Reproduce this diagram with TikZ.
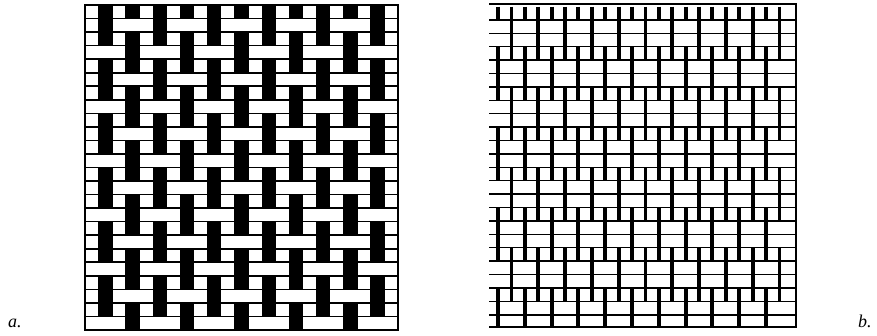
\documentclass[tikz,border=0pt]{standalone}
\usepackage{fontspec}
\setmainfont{Liberation Serif}
\begin{document}
\begin{tikzpicture}[x=1pt,y=-1pt,
  hlinea/.style={line width=1.6pt, black},
  hlineb/.style={line width=1.4pt, black},
  frameline/.style={line width=1.6pt, black},
  warpline/.style={line width=3.9pt, black},
  lab/.style={font=\itshape\fontsize{18}{18}\selectfont, inner sep=0pt, anchor=base west}]
\useasboundingbox (0,0) rectangle (877,336);
\fill[white] (0,0) rectangle (877,336);
% ---------------- panel a ----------------
\def\aL{85}\def\aR{398}\def\aT{5}\def\aB{330}
\pgfmathsetmacro\cw{313/23}
\pgfmathsetmacro\rh{325/24}
\foreach \r in {1,...,23}
  \draw[hlinea] (\aL,{\aT+\r*\rh}) -- (\aR,{\aT+\r*\rh});
% warp columns c = 1,5,9,... : black over rows 0-2, 4-6, ...
\foreach \c in {1,5,9,13,17,21}
  \foreach \s in {0,4,...,20}
    \fill ({\aL+\c*\cw-0.4},{\aT+\s*\rh}) rectangle ({\aL+(\c+1)*\cw+0.4},{\aT+(\s+3)*\rh});
% warp columns c = 3,7,11,... : black over rows 0, 2-4, 6-8, ..., 22-23
\foreach \c in {3,7,11,15,19}
  \foreach \s/\e in {0/1,2/5,6/9,10/13,14/17,18/21,22/24}
    \fill ({\aL+\c*\cw-0.4},{\aT+\s*\rh}) rectangle ({\aL+(\c+1)*\cw+0.4},{\aT+\e*\rh});
\draw[frameline] (\aL,\aT) rectangle (\aR,\aB);
% ---------------- panel b ----------------
\def\bL{489}\def\bR{796}\def\bT{4}\def\bB{327}
\foreach \m in {1,...,23}
  \draw[hlineb] (\bL,{6.6+13.4*\m}) -- (\bR,{6.6+13.4*\m});
\draw[frameline] (\bL,\bT) -- (\bR,\bT) -- (\bR,\bB) -- (\bL,\bB);
% warp set A
\foreach \k in {0,...,10}
  \foreach \s/\e in {0/4,6/10,12/16,18/22}
    \draw[warpline] ({511.5+26.8*\k},{max(\bT,min(\bB,6.6+13.4*\s))}) -- ({511.5+26.8*\k},{max(\bT,min(\bB,6.6+13.4*\e))});
% warp set B
\foreach \k in {0,...,10}
  \foreach \s/\e in {0/1,3/7,9/13,15/19,21/25}
    \draw[warpline] ({498+26.8*\k},{max(\bT,min(\bB,6.6+13.4*\s))}) -- ({498+26.8*\k},{max(\bT,min(\bB,6.6+13.4*\e))});
% labels
\node[lab] (la) at (8,327) {a.};
\node[lab] (lb) at (858,327) {b.};
\end{tikzpicture}
\end{document}
